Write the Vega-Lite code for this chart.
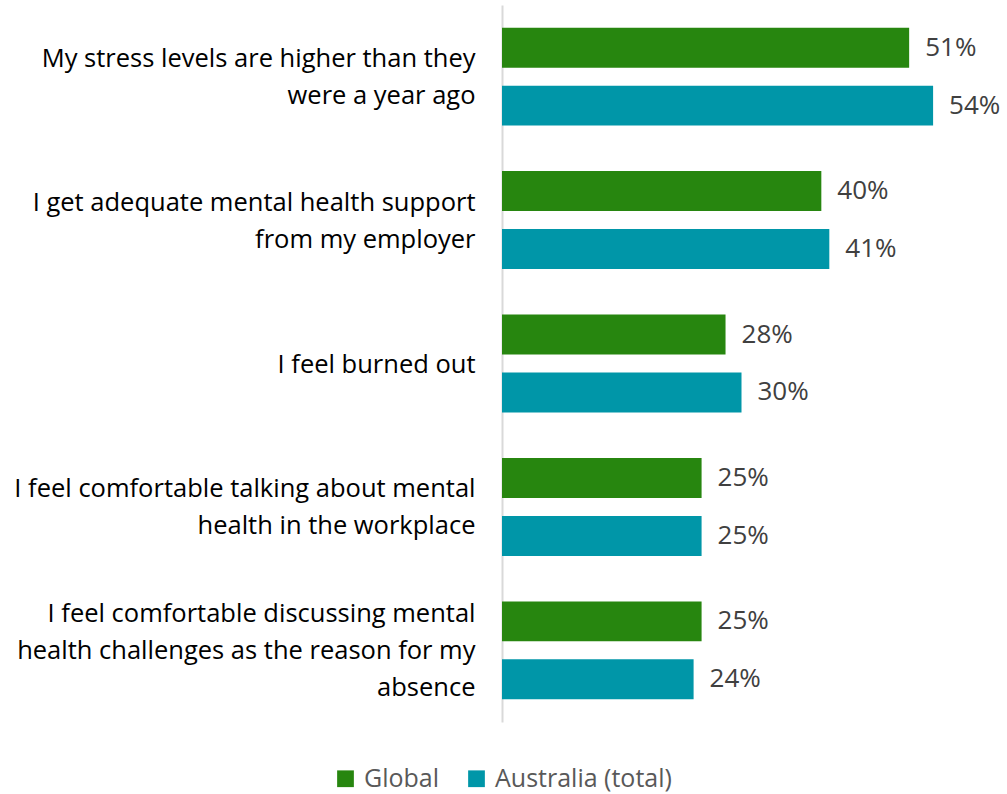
{
  "$schema": "https://vega.github.io/schema/vega-lite/v6.json",
  "autosize": "none",
  "width": 479,
  "height": 717,
  "padding": {"left": 502, "top": 5, "right": 26, "bottom": 72},
  "background": "white",
  "config": {"view": {"stroke": null}, "font": "Open Sans"},
  "data": {"values": [
    {"cat": "My stress levels are higher than they|were a year ago", "series": "Global", "value": 51},
    {"cat": "My stress levels are higher than they|were a year ago", "series": "Australia (total)", "value": 54},
    {"cat": "I get adequate mental health support|from my employer", "series": "Global", "value": 40},
    {"cat": "I get adequate mental health support|from my employer", "series": "Australia (total)", "value": 41},
    {"cat": "I feel burned out", "series": "Global", "value": 28},
    {"cat": "I feel burned out", "series": "Australia (total)", "value": 30},
    {"cat": "I feel comfortable talking about mental|health in the workplace", "series": "Global", "value": 25},
    {"cat": "I feel comfortable talking about mental|health in the workplace", "series": "Australia (total)", "value": 25},
    {"cat": "I feel comfortable discussing mental|health challenges as the reason for my|absence", "series": "Global", "value": 25},
    {"cat": "I feel comfortable discussing mental|health challenges as the reason for my|absence", "series": "Australia (total)", "value": 24}
  ]},
  "encoding": {
    "y": {
      "field": "cat", "type": "nominal", "sort": null,
      "scale": {"paddingInner": 0.317, "paddingOuter": 0.158},
      "axis": {
        "title": null, "ticks": false, "domain": true, "domainColor": "#D9D9D9", "domainWidth": 2,
        "labelExpr": "split(datum.label, '|')", "labelFontSize": 25.5, "labelColor": "#000000",
        "labelPadding": 27, "labelLineHeight": 37, "labelLimit": 520, "labelFont": "Open Sans",
        "labelOffset": {"expr": "-(length(split(datum.value, '|')) - 1) * 18.5 + 1"}
      }
    },
    "yOffset": {"field": "series", "type": "nominal", "sort": ["Global", "Australia (total)"],
      "scale": {"paddingInner": 0.31, "paddingOuter": 0}},
    "x": {"field": "value", "type": "quantitative", "scale": {"domain": [0, 60]}, "axis": null}
  },
  "layer": [
    {
      "mark": {"type": "bar"},
      "encoding": {
        "color": {
          "field": "series", "type": "nominal",
          "scale": {"domain": ["Global", "Australia (total)"], "range": ["#27860F", "#0096A8"]},
          "legend": {
            "title": null, "orient": "none", "direction": "horizontal",
            "legendX": -169, "legendY": 761,
            "symbolType": "square", "symbolSize": 280, "labelFontSize": 25, "labelColor": "#595959",
            "labelFont": "Open Sans", "columnPadding": 24, "symbolStrokeWidth": 0, "labelOffset": 6,
            "labelLimit": 400
          }
        }
      }
    },
    {
      "mark": {"type": "text", "align": "left", "baseline": "middle", "dx": 16, "fontSize": 26, "color": "#404040", "font": "Open Sans",
        "text": {"expr": "datum.value + '%'"}},
      "encoding": {}
    }
  ]
}
